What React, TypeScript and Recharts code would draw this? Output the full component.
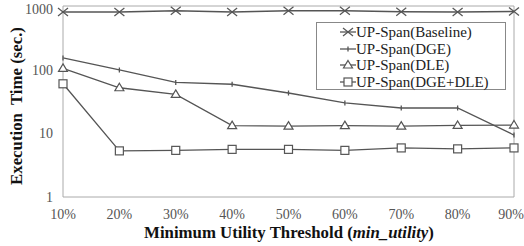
import React from "react";
import { LineChart, Line, XAxis, YAxis, ReferenceLine } from "recharts";

const categories = ["10%", "20%", "30%", "40%", "50%", "60%", "70%", "80%", "90%"];
const baseline = [805, 805, 845, 805, 845, 845, 810, 805, 820];
const dge = [153, 99, 63, 59, 43, 30, 25, 25, 9.4];
const dle = [105, 52, 41, 13.2, 13, 13.2, 13, 13.3, 13.5];
const dgeDle = [60, 5.3, 5.4, 5.6, 5.6, 5.4, 5.9, 5.7, 5.9];
const yTicks = [1, 10, 100, 1000];
const seriesNames = ["UP-Span(Baseline)", "UP-Span(DGE)", "UP-Span(DLE)", "UP-Span(DGE+DLE)"];

const data = categories.map((c, i) => ({
  cat: c,
  baseline: baseline[i],
  dge: dge[i],
  dle: dle[i],
  dgeDle: dgeDle[i],
}));

const LINE = "#555555";
const FONT = '"Liberation Serif"';

const CrossMark = ({ cx, cy }: any) => (
  <g stroke={LINE} strokeWidth={1.3} fill="none">
    <line x1={cx - 5} y1={cy - 4} x2={cx + 5} y2={cy + 4} />
    <line x1={cx - 5} y1={cy + 4} x2={cx + 5} y2={cy - 4} />
  </g>
);
const PlusMark = ({ cx, cy }: any) => (
  <g stroke={LINE} strokeWidth={1.3} fill="none">
    <line x1={cx} y1={cy - 2.5} x2={cx} y2={cy + 2.5} />
  </g>
);
const TriMark = ({ cx, cy }: any) => (
  <path d={`M${cx},${cy - 4.5} L${cx + 4.5},${cy + 3} L${cx - 4.5},${cy + 3} Z`} stroke={LINE} strokeWidth={1.2} fill="#fff" />
);
const SqMark = ({ cx, cy }: any) => (
  <rect x={cx - 4} y={cy - 4} width={8} height={8} stroke={LINE} strokeWidth={1.2} fill="#fff" />
);
const marks = [CrossMark, PlusMark, TriMark, SqMark];

const XTick = ({ x, y, payload }: any) => (
  <text
    x={Math.min(x, 511)}
    y={y}
    dy={11}
    textAnchor="middle"
    fontFamily={FONT}
    fontSize={14}
    fill="#555"
  >
    {payload.value}
  </text>
);

const YTick = ({ x, y, payload }: any) => (
  <text x={x} y={y} dy={5} textAnchor="end" fontFamily={FONT} fontSize={14} fill="#555">
    {payload.value}
  </text>
);

const LegendBox = () => (
  <div
    style={{
      position: "absolute",
      left: 316,
      top: 22,
      width: 190,
      height: 68,
      border: "1px solid #888",
      background: "#fff",
      boxSizing: "border-box",
      fontFamily: FONT,
      fontSize: 15,
      color: "#222",
    }}
  >
    {seriesNames.map((n, i) => {
      const M = marks[i];
      return (
        <div key={n} style={{ position: "absolute", left: 39, top: 1 + i * 16.5, height: 16, display: "flex", alignItems: "center", whiteSpace: "nowrap" }}>
          <svg width={18} height={16} style={{ position: "absolute", left: -17, top: 0 }}>
            <line x1={1} y1={8} x2={17} y2={8} stroke={LINE} strokeWidth={1.3} />
            <M cx={9} cy={8} />
          </svg>
          <span style={{ lineHeight: "16px" }}>{n}</span>
        </div>
      );
    })}
  </div>
);

const YLabel = () => (
  <text
    x={16}
    y={106}
    transform="rotate(-90 16 106)"
    textAnchor="middle"
    dominantBaseline="central"
    fontFamily={FONT}
    fontWeight="bold"
    fontSize={16.8}
    fill="#111"
    style={{ whiteSpace: "pre" }}
  >
    Execution  Time (sec.)
  </text>
);

const XLabel = () => (
  <text x={289} y={237.5} textAnchor="middle" fontFamily={FONT} fontWeight="bold" fontSize={16.8} fill="#111">
    Minimum Utility Threshold (<tspan fontStyle="italic">min_utility</tspan>)
  </text>
);

export default function App() {
  return (
    <div style={{ position: "absolute", left: 0, top: 0, width: 524, height: 246, background: "#fff" }}>
      <LineChart width={524} height={246} data={data} margin={{ top: 6, right: 10, bottom: 9, left: 8 }}>
        <XAxis
          dataKey="cat"
          padding={{ left: 0, right: 0 }}
          tickLine={false}
          tickSize={2}
          tickMargin={9}
          height={40}
          stroke="#aaaaaa"
          tick={<XTick />}
          interval={0}
        />
        <YAxis
          scale="log"
          domain={[1, 1000]}
          ticks={yTicks}
          allowDataOverflow
          tickLine={false}
          tickSize={6}
          tickMargin={4}
          width={55}
          stroke="#aaaaaa"
          tick={<YTick />}
        />
        <ReferenceLine y={1000} stroke="#aaaaaa" />
        <ReferenceLine x="90%" stroke="#aaaaaa" />
        <Line dataKey="baseline" stroke={LINE} strokeWidth={1.5} dot={<CrossMark />} isAnimationActive={false} />
        <Line dataKey="dge" stroke={LINE} strokeWidth={1.3} dot={<PlusMark />} isAnimationActive={false} />
        <Line dataKey="dle" stroke={LINE} strokeWidth={1.3} dot={<TriMark />} isAnimationActive={false} />
        <Line dataKey="dgeDle" stroke={LINE} strokeWidth={1.3} dot={<SqMark />} isAnimationActive={false} />
        <YLabel />
        <XLabel />
      </LineChart>
      <LegendBox />
    </div>
  );
}
